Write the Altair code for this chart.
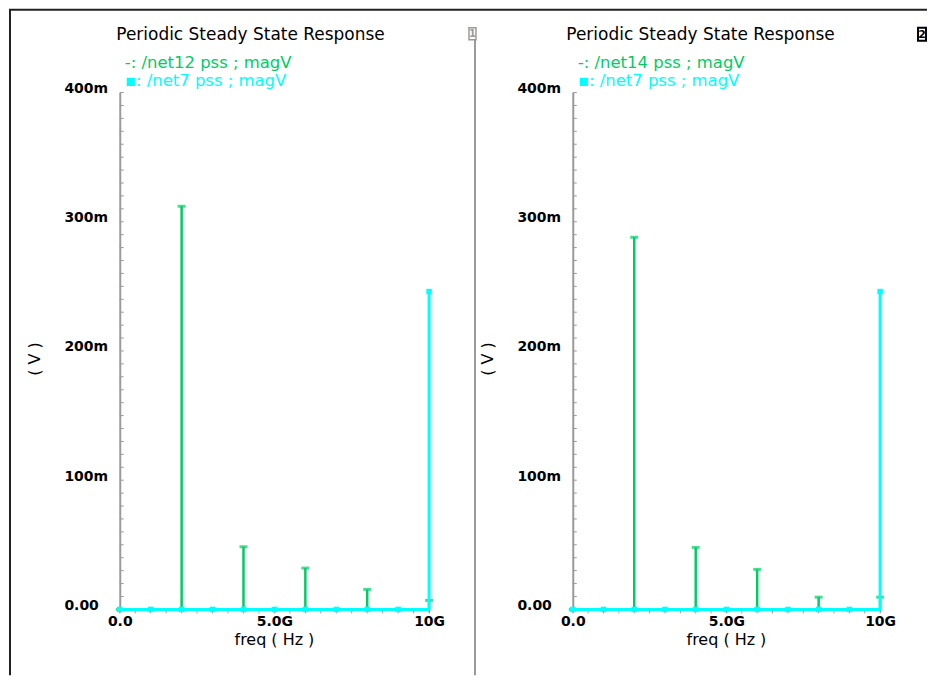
import altair as alt
import pandas as pd

# ---- data (values in mV, freq in GHz) ----
freq_ghz = [0, 1, 2, 3, 4, 5, 6, 7, 8, 9, 10]
net12_mv = [0, 0, 312, 0, 48.5, 0, 32, 0, 15.5, 0, 7]
net14_mv = [0, 0, 288, 0, 48, 0, 31, 0, 9.5, 0, 9.5]
net7_mv = [0, 0, 0, 0, 0, 0, 0, 0, 0, 0, 246]

y_major = [0, 100, 200, 300, 400]
y_minor = [v * 10 for v in range(41)]
x_major = [0, 5, 10]
x_minor = [v * 0.5 for v in range(21)]

title_text = "Periodic Steady State Response"
legend_left = ["-: /net12 pss ; magV", "▪: /net7 pss ; magV"]
legend_right = ["-: /net14 pss ; magV", "▪: /net7 pss ; magV"]
xtitle = "freq ( Hz )"
ytitle = "( V )"

GREEN = "#00cc66"
CYAN = "#00ffff"
GRAY = "#9a9a9a"
PLOT_H = 518


def txt(s, x, y, size=15, color="black", align="left", angle=0, weight="normal",
        font="DejaVu Sans"):
    return alt.Chart(pd.DataFrame({"t": [s]})).mark_text(
        align=align, baseline="middle", fontSize=size, color=color, angle=angle,
        fontWeight=weight, font=font
    ).encode(x=alt.value(x), y=alt.value(y), text="t:N")


XS = alt.Scale(domain=[0, 10], nice=False, zero=False)
YS = alt.Scale(domain=[0, 400], nice=False)
XAXIS = alt.Axis(
    values=x_major,
    labelExpr="datum.value == 0 ? '0.0' : (datum.value == 10 ? '10G' : '5.0G')",
    labelOverlap=False, labelFlush=False, tickSize=3, tickColor=GRAY,
    domainColor=GRAY, domainWidth=2, labelPadding=2,
    labelFont="DejaVu Sans", labelFontWeight="bold", labelFontSize=14,
    labelColor="black", title=None, grid=False,
)
YAXIS = alt.Axis(
    values=y_major,
    labelExpr="datum.value == 0 ? '0.00' : datum.value + 'm'",
    ticks=False, labelAlign="left", labelPadding=56, labelBaseline="alphabetic",
    domainColor=GRAY, domainWidth=2, labelOverlap=False,
    labelFont="DejaVu Sans", labelFontWeight="bold", labelFontSize=14,
    labelColor="black", title=None, grid=False,
)


def panel(green_vals, legend, width, is_left, icon):
    df = pd.DataFrame({"freq": freq_ghz, "green": green_vals, "cyan": net7_mv})
    X = lambda: alt.X("freq:Q", scale=XS, axis=XAXIS, title=None)
    base = alt.Chart(df)
    gstem = base.mark_rule(color=GREEN, strokeWidth=2.5).encode(
        x=X(), y=alt.Y("green:Q", scale=YS, axis=YAXIS, title=None), y2=alt.datum(0),
    )
    gcap = base.mark_tick(color=GREEN, orient="horizontal", size=8, thickness=3).encode(
        x=X(), y=alt.Y("green:Q", scale=YS, axis=YAXIS, title=None),
    )
    baseline = base.mark_rule(color=CYAN, strokeWidth=3).encode(
        x=alt.datum(0), x2=alt.datum(10), y=alt.datum(0)
    )
    cstem = base.mark_rule(color=CYAN, strokeWidth=3).encode(
        x=X(), y=alt.Y("cyan:Q", scale=YS, axis=YAXIS, title=None), y2=alt.datum(0),
    )
    cpt = base.mark_point(shape="square", filled=True, size=30, color=CYAN, opacity=1).encode(
        x=X(), y=alt.Y("cyan:Q", scale=YS, axis=YAXIS, title=None),
    )
    yticks = alt.Chart(pd.DataFrame({"v": y_minor})).mark_rule(color=GRAY, strokeWidth=1).encode(
        y=alt.Y("v:Q", scale=YS, axis=YAXIS, title=None), x=alt.value(0), x2=alt.value(4)
    )
    xticks = alt.Chart(pd.DataFrame({"f": x_minor})).mark_rule(color=GRAY, strokeWidth=1).encode(
        x=alt.X("f:Q", scale=XS, axis=XAXIS, title=None),
        y=alt.value(PLOT_H + 1), y2=alt.value(PLOT_H + 4)
    )
    layers = [gstem, yticks, xticks, gcap, baseline, cstem, cpt]
    tx = 131 if is_left else 128
    layers += [
        txt(title_text, tx, -58, size=17, align="center"),
        txt(legend[0], 5, -30, size=16.5, color=GREEN),
        txt(legend[1], 5, -12, size=16.5, color=CYAN),
        txt(xtitle, width / 2, 549, size=16, align="center"),
        txt(ytitle, -85, 267, size=16, align="center", angle=270),
    ]
    one = alt.Chart(pd.DataFrame({"a": [0]}))
    if is_left:
        layers += [
            one.mark_rule(color="#222222", strokeWidth=2).encode(
                x=alt.value(-110), y=alt.value(-83), y2=alt.value(584)),
            one.mark_rule(color="#222222", strokeWidth=2).encode(
                x=alt.value(-111), x2=alt.value(809), y=alt.value(-83)),
            one.mark_rule(color=GRAY, strokeWidth=2).encode(
                x=alt.value(356), y=alt.value(-60), y2=alt.value(584)),
            one.mark_rect(fill="white", stroke=GRAY, strokeWidth=1.5).encode(
                x=alt.value(350), x2=alt.value(357), y=alt.value(-65), y2=alt.value(-53)),
            txt(icon, 353.5, -59, size=10, color=GRAY, align="center", weight="bold"),
        ]
    else:
        layers += [
            one.mark_rect(fill="white", stroke="black", strokeWidth=2).encode(
                x=alt.value(346), x2=alt.value(354), y=alt.value(-65), y2=alt.value(-52)),
            txt(icon, 350, -58, size=11, color="black", align="center", weight="bold"),
        ]
    return alt.layer(*layers).properties(width=width, height=PLOT_H)


left = panel(net12_mv, legend_left, 310, True, "1")
right = panel(net14_mv, legend_right, 308, False, "2")

chart = alt.hconcat(left, right, spacing=144, bounds="flush").properties(
    padding=0, background="white"
).configure_view(strokeWidth=0, stroke="transparent")

chart.save("out.html", embed_options={"renderer": "svg", "actions": False})
